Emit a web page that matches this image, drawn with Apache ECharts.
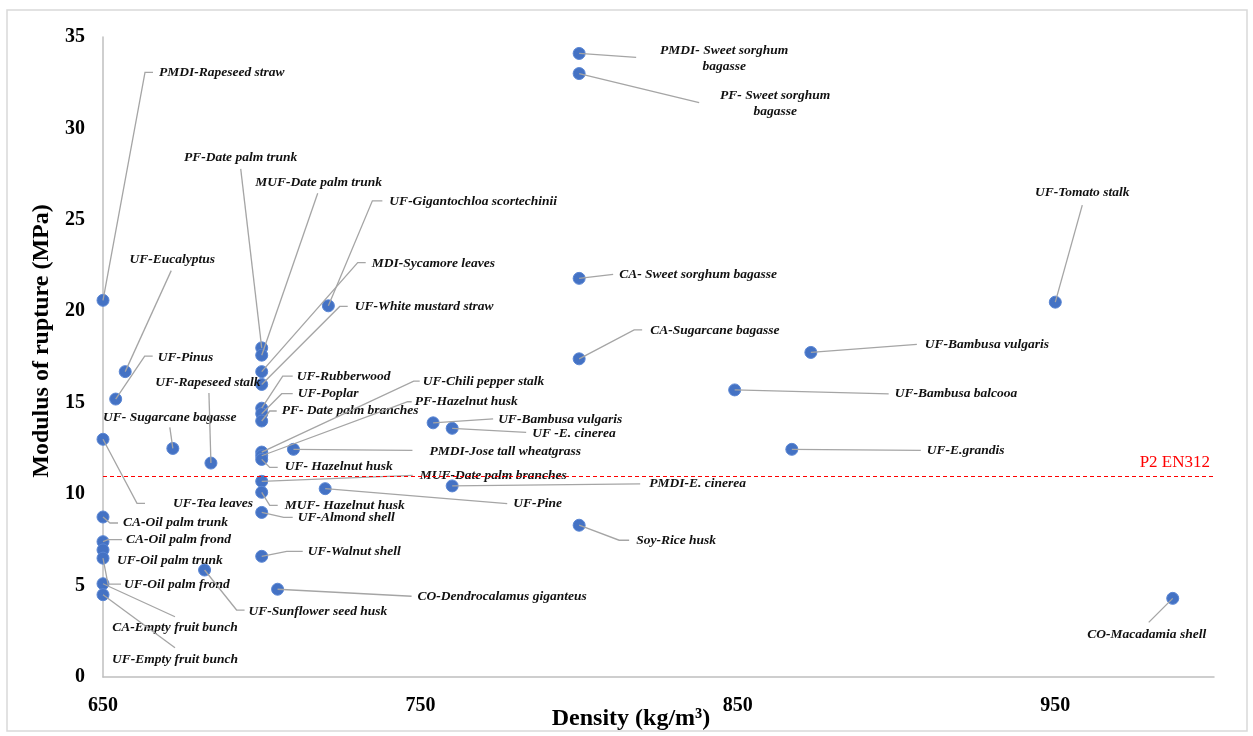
<!DOCTYPE html>
<html>
<head>
<meta charset="utf-8">
<script src="https://cdn.jsdelivr.net/npm/echarts@6/dist/echarts.min.js"></script>
<style>html,body{margin:0;padding:0;background:#fff;}#c{width:1253px;height:736px;}</style>
</head>
<body>
<div id="c"></div>
<script>
const names = [
  'PMDI-Rapeseed straw','UF-Eucalyptus','UF-Pinus','UF- Sugarcane bagasse','UF-Rapeseed stalk',
  'UF-Tea leaves','CA-Oil palm trunk','CA-Oil palm frond','UF-Oil palm trunk','UF-Oil palm frond',
  'CA-Empty fruit bunch','UF-Empty fruit bunch','UF-Sunflower seed husk','PF-Date palm trunk','MUF-Date palm trunk',
  'UF-Gigantochloa scortechinii','MDI-Sycamore leaves','UF-White mustard straw','UF-Rubberwood','UF-Poplar',
  'PF- Date palm branches','UF-Chili pepper stalk','PF-Hazelnut husk','UF- Hazelnut husk','PMDI-Jose tall wheatgrass',
  'MUF-Date palm branches','MUF- Hazelnut husk','UF-Almond shell','UF-Walnut shell','CO-Dendrocalamus giganteus',
  'UF-Pine','UF-Bambusa vulgaris','UF -E. cinerea','PMDI-E. cinerea','Soy-Rice husk',
  'PMDI- Sweet sorghum\nbagasse','PF- Sweet sorghum\nbagasse','CA- Sweet sorghum bagasse','CA-Sugarcane bagasse','UF-Bambusa vulgaris',
  'UF-Bambusa balcooa','UF-E.grandis','UF-Tomato stalk','CO-Macadamia shell'
];
const density = [
  650, 657, 654, 672, 684,
  650, 650, 650, 650, 650,
  650, 650, 682, 700, 700,
  721, 700, 700, 700, 700,
  700, 700, 700, 700, 710,
  700, 700, 700, 700, 705,
  720, 754, 760, 760, 800,
  800, 800, 800, 800, 873,
  849, 867, 950, 987
];
const mor = [
  20.6, 16.7, 15.2, 12.5, 11.7,
  13.0, 8.75, 7.4, 6.95, 6.5,
  5.1, 4.5, 5.85, 18.0, 17.6,
  20.3, 16.7, 16.0, 14.7, 14.4,
  14.0, 12.3, 12.1, 11.9, 12.45,
  10.7, 10.1, 9.0, 6.6, 4.8,
  10.3, 13.9, 13.6, 10.45, 8.3,
  34.1, 33.0, 21.8, 17.4, 17.75,
  15.7, 12.45, 20.5, 4.3
];
const xTickLabels = [650, 750, 850, 950];
const yTickLabels = [0, 5, 10, 15, 20, 25, 30, 35];
const thresholdValue = 11;
const thresholdName = 'P2 EN312';

// label placement (pixel offsets from the point): [elbowX, elbowY, stubEndX, textX, textY, align]
const labelLayout = [
  [42,-228,50, 56,-228,'left'],
  [46,-101,null, 47,-112,'center'],
  [29,-43,37, 42,-42,'left'],
  [-3,-21,null, -3,-31,'center'],
  [-2,-70,null, -3,-81,'center'],
  [34,64,42, 70,64,'left'],
  [7,6,15, 20,6,'left'],
  [5,-2,19, 23,-2,'left'],
  [null,null,null, 14,11,'left'],
  [5,26,18, 21,26,'left'],
  [72,33,null, 72,44,'center'],
  [72,53,null, 72,65,'center'],
  [32,40,40, 44,41,'left'],
  [-21,-179,null, -21,-190,'center'],
  [56,-162,null, 57,-173,'center'],
  [44,-105,54, 61,-104,'left'],
  [96,-109,104, 110,-108,'left'],
  [78,-78,86, 93,-78,'left'],
  [21,-32,31, 35,-32,'left'],
  [20,-20,31, 36,-20,'left'],
  [8,-10,15, 20,-10,'left'],
  [152,-71,158, 161,-71,'left'],
  [146,-54,150, 153,-54,'left'],
  [8,8,16, 23,7,'left'],
  [119,1,null, 136,2,'left'],
  [151,-6,null, 158,-6,'left'],
  [8,13,16, 23,13,'left'],
  [22,5,31, 36,5,'left'],
  [25,-5,41, 46,-5,'left'],
  [134,7,null, 140,7,'left'],
  [182,15,null, 188,15,'left'],
  [60,-4,null, 65,-3,'left'],
  [74,4,null, 80,5,'left'],
  [188,-2,null, 197,-2,'left'],
  [40,15,50, 57,15,'left'],
  [57,4,null, 145,5,'center'],
  [120,29,null, 196,30,'center'],
  [34,-4,null, 40,-4,'left'],
  [55,-29,63, 71,-28,'left'],
  [106,-8,null, 114,-8,'left'],
  [154,4,null, 160,4,'left'],
  [129,1,null, 135,1,'left'],
  [27,-97,null, 27,-110,'center'],
  [-24,24,null, -26,36,'center']
];

const points = density.map((d, i) => [d, mor[i], i]);
const serif = '"Liberation Serif", "Times New Roman", serif';

const chart = echarts.init(document.getElementById('c'), null, {renderer: 'canvas'});

function renderLabel(params, api) {
  const i = params.dataIndex;
  const p = api.coord([api.value(0), api.value(1)]);
  const L = labelLayout[i];
  const children = [];
  if (L[0] !== null) {
    const pts = [[p[0], p[1]], [p[0] + L[0], p[1] + L[1]]];
    if (L[2] !== null) pts.push([p[0] + L[2], p[1] + L[1]]);
    children.push({
      type: 'polyline', silent: true,
      shape: {points: pts},
      style: {stroke: '#A5A5A5', lineWidth: 1.3, fill: null}
    });
  }
  children.push({
    type: 'text', silent: true,
    x: p[0] + L[3], y: p[1] + L[4],
    style: {
      text: names[i], fill: '#111',
      font: 'italic bold 13.5px ' + serif,
      align: L[5], verticalAlign: 'middle', lineHeight: 16
    }
  });
  return {type: 'group', children: children};
}

chart.setOption({
  animation: false,
  backgroundColor: '#fff',
  grid: {left: 103, right: 39, top: 37, bottom: 59, containLabel: false},
  xAxis: {
    type: 'value', min: 650, max: 1000, interval: 50,
    axisLine: {show: true, lineStyle: {color: '#BFBFBF', width: 1.5}},
    axisTick: {show: false},
    splitLine: {show: false},
    axisLabel: {
      margin: 19, color: '#000', fontFamily: serif, fontWeight: 'bold', fontSize: 20,
      formatter: v => xTickLabels.indexOf(v) >= 0 ? String(v) : ''
    }
  },
  yAxis: {
    type: 'value', min: 0, max: 35, interval: 5,
    axisLine: {show: true, lineStyle: {color: '#BFBFBF', width: 1.5}},
    axisTick: {show: false},
    splitLine: {show: false},
    axisLabel: {
      margin: 18, color: '#000', fontFamily: serif, fontWeight: 'bold', fontSize: 20,
      formatter: v => yTickLabels.indexOf(v) >= 0 ? String(v) : ''
    }
  },
  graphic: [
    {type: 'rect', silent: true, z: -10, shape: {x: 7, y: 10, width: 1240, height: 721},
      style: {fill: null, stroke: '#D9D9D9', lineWidth: 1.5}},
    {type: 'text', silent: true, x: 631, y: 719,
      style: {text: 'Density (kg/m³)', font: 'bold 24px ' + serif, fill: '#000', align: 'center', verticalAlign: 'middle'}},
    {type: 'text', silent: true, x: 42, y: 341, rotation: Math.PI / 2,
      style: {text: 'Modulus of rupture (MPa)', font: 'bold 24px ' + serif, fill: '#000', align: 'center', verticalAlign: 'middle'}}
  ],
  series: [
    {
      type: 'scatter', z: 2,
      data: points,
      symbol: 'circle', symbolSize: 12,
      itemStyle: {color: '#4472C4', borderColor: '#5A86D4', borderWidth: 1, opacity: 1},
      markLine: {
        silent: true, symbol: 'none',
        lineStyle: {color: '#FF0000', type: [4, 3], width: 1.2},
        label: {show: true, position: 'insideEndTop', formatter: thresholdName, color: '#FF0000',
          fontFamily: serif, fontSize: 17, distance: [4, 5]},
        data: [{yAxis: thresholdValue}]
      }
    },
    {
      type: 'custom', z: 3, clip: false,
      data: points,
      encode: {x: 0, y: 1},
      renderItem: renderLabel
    }
  ]
});
</script>
</body>
</html>
